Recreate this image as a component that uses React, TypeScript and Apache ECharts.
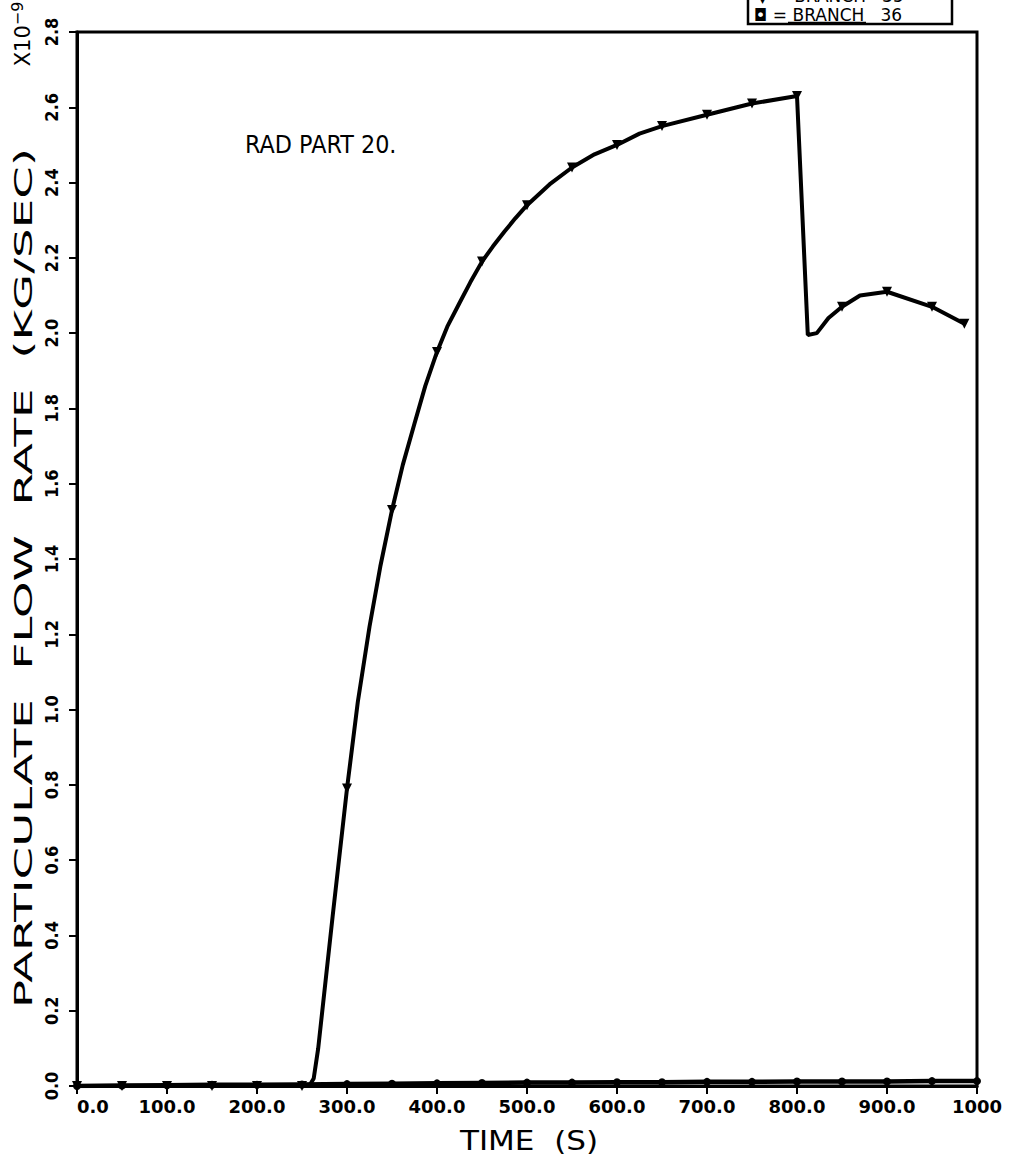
import React, { useEffect, useRef } from "react";
import * as echarts from "echarts";

// ---- data (time in s, flow in 1e-9 kg/s) ----
const TIME_35 = [0, 50, 100, 150, 200, 250, 258, 263, 268, 284, 300, 312, 325, 337, 350, 362, 375, 387, 400, 412, 425, 437, 450, 462, 475, 487, 500, 525, 550, 575, 600, 625, 650, 700, 750, 800, 812, 822, 835, 850, 870, 900, 950, 986];
const FLOW_35 = [0, 0, 0, 0, 0, 0, 0, 0.02, 0.1, 0.45, 0.79, 1.02, 1.22, 1.38, 1.53, 1.65, 1.76, 1.86, 1.95, 2.02, 2.08, 2.135, 2.19, 2.23, 2.27, 2.305, 2.34, 2.395, 2.44, 2.475, 2.5, 2.53, 2.55, 2.58, 2.61, 2.63, 1.995, 2.0, 2.04, 2.07, 2.1, 2.11, 2.07, 2.025];
const MARKS_35 = [0, 50, 100, 150, 200, 250, 300, 350, 400, 450, 500, 550, 600, 650, 700, 750, 800, 850, 900, 950, 986];

const TIME_36 = [0, 50, 100, 150, 200, 250, 300, 350, 400, 450, 500, 550, 600, 650, 700, 750, 800, 850, 900, 950, 1000];
const FLOW_36 = [0, 0.001, 0.002, 0.003, 0.003, 0.004, 0.005, 0.006, 0.007, 0.008, 0.009, 0.009, 0.01, 0.01, 0.011, 0.011, 0.012, 0.012, 0.012, 0.013, 0.013];

const LEGEND = ["BRANCH   35", "BRANCH   36"];
const TITLE_TEXT = "RAD PART 20.";
const X_NAME = "TIME  (S)";
const Y_NAME = "PARTICULATE  FLOW  RATE  (KG/SEC)";

const FONT = "'DejaVu Sans', sans-serif";
const FONT_C = "'DejaVu Sans Condensed', 'DejaVu Sans', sans-serif";

export default function App() {
  const ref = useRef<HTMLDivElement>(null);
  useEffect(() => {
    if (!ref.current) return;
    const chart = echarts.init(ref.current, null, { renderer: "svg" });
    const d35 = TIME_35.map((t, i) => {
      const m = MARKS_35.includes(t);
      return { value: [t, FLOW_35[i]], symbol: m ? "triangle" : "none", symbolRotate: 180 };
    });
    const d36 = TIME_36.map((t, i) => [t, FLOW_36[i]]);
    const L = 77, R = 977, T = 32, B = 1086;
    chart.setOption({
      animation: false,
      backgroundColor: "#ffffff",
      grid: {
        left: L, right: 1012 - R, top: T, bottom: 1157 - B,
        show: true, borderColor: "#000", borderWidth: 3, backgroundColor: "transparent",
      },
      xAxis: {
        type: "value", min: 0, max: 1000, interval: 100,
        axisLine: { show: true, lineStyle: { color: "#000", width: 3 } },
        axisTick: { show: true, inside: false, length: 8, lineStyle: { color: "#000", width: 2 } },
        axisLabel: {
          fontFamily: FONT, fontSize: 18, fontWeight: "bold", color: "#000", margin: 11,
          alignMinLabel: "left",
          formatter: (v: number) => (v === 1000 ? "1000" : v.toFixed(1)),
        },
        splitLine: { show: false },
      },
      yAxis: {
        type: "value", min: 0, max: 2.8, interval: 0.2,
        axisLine: { show: true, lineStyle: { color: "#000", width: 3 } },
        axisTick: { show: true, inside: false, length: 8, lineStyle: { color: "#000", width: 2 } },
        axisLabel: {
          fontFamily: FONT_C, fontSize: 18, fontWeight: "bold", color: "#000", margin: 17, rotate: 90,
          formatter: (v: number) => v.toFixed(1),
        },
        splitLine: { show: false },
      },
      graphic: [
        {
          type: "text", x: 23, y: 578, rotation: Math.PI / 2, scaleX: 1.87, scaleY: 1,
          style: { text: Y_NAME, font: `25px ${FONT}`, fill: "#000", align: "center", verticalAlign: "middle" },
        },
        {
          type: "text", x: 529, y: 1141, scaleX: 1.15, scaleY: 1,
          style: { text: X_NAME, font: `27px ${FONT}`, fill: "#000", align: "center", verticalAlign: "middle" },
        },
        {
          type: "text", x: 23, y: 34, rotation: Math.PI / 2,
          style: {
            text: "X10{s|−9}", font: `21px ${FONT}`, fill: "#000", align: "center", verticalAlign: "middle",
            rich: { s: { fontSize: 16, fontFamily: FONT, verticalAlign: "top", padding: [0, 0, 12, 0] } },
          },
        },
        {
          type: "text", x: 245, y: 144, scaleX: 0.93, scaleY: 1,
          style: { text: TITLE_TEXT, font: `24px ${FONT}`, fill: "#000", verticalAlign: "middle" },
        },
        {
          type: "rect", shape: { x: 748, y: -40, width: 204, height: 64 },
          style: { fill: "#fff", stroke: "#000", lineWidth: 2.5 },
        },
        {
          type: "text", x: 756, y: -4,
          style: { text: "▼ = " + LEGEND[0], font: `17px ${FONT}`, fill: "#000", verticalAlign: "middle" },
        },
        {
          type: "text", x: 754, y: 15,
          style: { text: "◘ = " + LEGEND[1], font: `17px ${FONT}`, fill: "#000", verticalAlign: "middle" },
        },
        { type: "line", shape: { x1: 788, y1: 22.5, x2: 866, y2: 22.5 }, style: { stroke: "#000", lineWidth: 1.5 } },
      ],
      series: [
        {
          type: "line", name: LEGEND[1], data: d36, symbol: "circle", symbolSize: 8,
          lineStyle: { color: "#000", width: 4.5 }, itemStyle: { color: "#000" }, z: 2,
        },
        {
          type: "line", name: LEGEND[0], data: d35, symbolSize: 10, showAllSymbol: true,
          lineStyle: { color: "#000", width: 4 }, itemStyle: { color: "#000" }, z: 3,
        },
      ],
    });
    return () => chart.dispose();
  }, []);
  return <div ref={ref} style={{ position: "fixed", left: 0, top: 0, width: 1012, height: 1157, background: "#fff" }} />;
}
